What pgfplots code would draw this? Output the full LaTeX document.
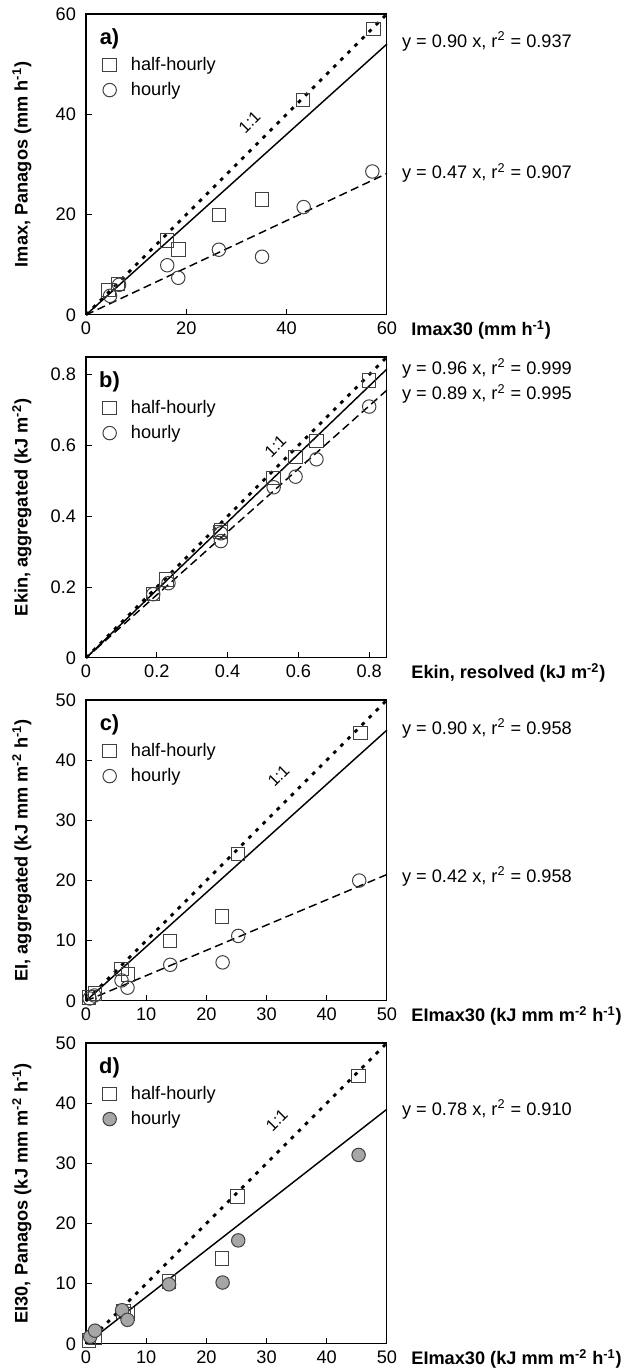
\documentclass[border=0pt]{standalone}
\usepackage{fontspec}
\setmainfont{Liberation Sans}
\usepackage{pgfplots}
\pgfplotsset{compat=1.18}

% 1 px of the reference = 0.55pt
\pgfplotsset{
  panel/.style={
    scale only axis, width=165.5pt, height=165.5pt,
    anchor=north west,
    axis line style={line width=0.6pt},
    tick style={black, line width=0.6pt},
    major tick length=3.3pt,
    tick align=inside,
    xtick pos=bottom, ytick pos=left,
    ticklabel style={font=\fontsize{10}{12}\selectfont},
    yticklabel style={xshift=-2pt},
    /pgf/number format/assume math mode=true,
    label style={font=\fontsize{10}{12}\selectfont\bfseries},
    xlabel style={at={(rel axis cs:1.06,-0.07)}, anchor=base west},
    ylabel style={at={(rel axis cs:-0.213,0.5)}, anchor=center},
    clip=false,
    legend style={draw=none, fill=none, at={(rel axis cs:0.037,0.882)},
      anchor=north west, font=\fontsize{10}{12}\selectfont, row sep=1pt},
    legend cell align=left,
  },
  sq/.style={only marks, mark=square, mark size=3.7pt,
    mark options={draw=black!75, line width=0.55pt, fill=none}},
  ci/.style={only marks, mark=o, mark size=3.7pt,
    mark options={draw=black!75, line width=0.55pt}},
  cif/.style={only marks, mark=*, mark size=3.7pt,
    mark options={draw=black!75, fill=black!35, line width=0.55pt}},
  oneone/.style={black, line width=1.6pt, dash pattern=on 2pt off 3.5pt, no marks, forget plot},
  fitA/.style={black, line width=0.8pt, no marks, forget plot},
  fitB/.style={black, line width=0.8pt, dash pattern=on 4.5pt off 2.5pt, no marks, forget plot},
}
\newcommand{\eqfont}{\fontsize{10}{12}\selectfont}
\newcommand{\tag}[1]{\node[font=\fontsize{12}{14}\selectfont\bfseries] at (rel axis cs:0.078,0.918) {#1};}
\newcommand{\one}[2]{\node[rotate=45, font=\fontsize{9}{11}\selectfont] at (axis cs:#1,#2) {1:1};}

\begin{document}
\begin{tikzpicture}
\path[use as bounding box] (-47.3pt,7.7pt) rectangle (294.8pt,-746.35pt);

% a)
\begin{axis}[panel, at={(0,0)},
  xmin=0, xmax=60, ymin=0, ymax=60,
  xtick={0,20,40,60}, ytick={0,20,40,60},
  xlabel={Imax30 (mm h\textsuperscript{-1})},
  ylabel={Imax, Panagos (mm h\textsuperscript{-1})}]
\addplot[sq] coordinates {(4.5,5.0) (6.4,6.2) (16.1,14.8) (18.4,13.0) (26.5,19.9) (35.1,23.0) (43.3,42.9) (57.3,57.0)};
\addlegendentry{\hspace{6pt}half-hourly}
\addplot[ci] coordinates {(4.8,3.8) (6.6,6.0) (16.2,9.9) (18.4,7.4) (26.5,13.0) (35.1,11.6) (43.4,21.5) (57.1,28.6)};
\addlegendentry{\hspace{6pt}hourly}
\addplot[oneone] coordinates {(0,0) (60,60)};
\addplot[fitA] coordinates {(0,0) (60,54)};
\addplot[fitB] coordinates {(0,0) (60,28.2)};
\tag{a)}
\one{32.6}{38.4}
\node[anchor=west, font=\eqfont, xshift=4.8pt] at (axis cs:60,54.5) {y = 0.90 x, r\textsuperscript{2} = 0.937};
\node[anchor=west, font=\eqfont, xshift=4.8pt] at (axis cs:60,28.3) {y = 0.47 x, r\textsuperscript{2} = 0.907};
\end{axis}

% b)
\begin{axis}[panel, at={(0,-188.65pt)},
  xmin=0, xmax=0.85, ymin=0, ymax=0.85,
  xtick={0,0.2,0.4,0.6,0.8}, ytick={0,0.2,0.4,0.6,0.8},
  xlabel={Ekin, resolved (kJ m\textsuperscript{-2})},
  ylabel={Ekin, aggregated (kJ m\textsuperscript{-2})}]
\addplot[sq] coordinates {(0.19,0.18) (0.228,0.222) (0.381,0.362) (0.38,0.355) (0.53,0.508) (0.592,0.568) (0.651,0.613) (0.80,0.783)};
\addlegendentry{\hspace{6pt}half-hourly}
\addplot[ci] coordinates {(0.19,0.18) (0.233,0.211) (0.381,0.352) (0.381,0.330) (0.53,0.482) (0.592,0.512) (0.651,0.561) (0.80,0.71)};
\addlegendentry{\hspace{6pt}hourly}
\addplot[oneone] coordinates {(0,0) (0.85,0.85)};
\addplot[fitA] coordinates {(0,0) (0.85,0.816)};
\addplot[fitB] coordinates {(0,0) (0.85,0.7565)};
\tag{b)}
\one{0.535}{0.598}
\node[anchor=west, font=\eqfont, xshift=4.8pt] at (axis cs:0.85,0.817) {y = 0.96 x, r\textsuperscript{2} = 0.999};
\node[anchor=west, font=\eqfont, xshift=4.8pt] at (axis cs:0.85,0.746) {y = 0.89 x, r\textsuperscript{2} = 0.995};
\end{axis}

% c)
\begin{axis}[panel, at={(0,-377.3pt)},
  xmin=0, xmax=50, ymin=0, ymax=50,
  xtick={0,10,20,30,40,50}, ytick={0,10,20,30,40,50},
  xlabel={EImax30 (kJ mm m\textsuperscript{-2} h\textsuperscript{-1})},
  ylabel={EI, aggregated (kJ mm m\textsuperscript{-2} h\textsuperscript{-1})}]
\addplot[sq] coordinates {(0.5,0.6) (1.5,1.2) (5.9,5.3) (7.0,4.4) (14.0,10.0) (22.6,14.0) (25.3,24.4) (45.6,44.5)};
\addlegendentry{\hspace{6pt}half-hourly}
\addplot[ci] coordinates {(0.6,0.4) (1.4,0.9) (5.9,3.4) (6.9,2.2) (14.0,6.0) (22.7,6.4) (25.3,10.8) (45.4,20.0)};
\addlegendentry{\hspace{6pt}hourly}
\addplot[oneone] coordinates {(0,0) (50,50)};
\addplot[fitA] coordinates {(0,0) (50,45)};
\addplot[fitB] coordinates {(0,0) (50,21)};
\tag{c)}
\one{32.0}{37.4}
\node[anchor=west, font=\eqfont, xshift=4.8pt] at (axis cs:50,45.3) {y = 0.90 x, r\textsuperscript{2} = 0.958};
\node[anchor=west, font=\eqfont, xshift=4.8pt] at (axis cs:50,20.7) {y = 0.42 x, r\textsuperscript{2} = 0.958};
\end{axis}

% d)
\begin{axis}[panel, at={(0,-565.95pt)},
  xmin=0, xmax=50, ymin=0, ymax=50,
  xtick={0,10,20,30,40,50}, ytick={0,10,20,30,40,50},
  xlabel={EImax30 (kJ mm m\textsuperscript{-2} h\textsuperscript{-1})},
  ylabel={EI30, Panagos (kJ mm m\textsuperscript{-2} h\textsuperscript{-1})}]
\addplot[sq] coordinates {(0.5,0.6) (1.5,1.1) (6.2,5.4) (7.0,5.0) (13.8,10.4) (22.6,14.2) (25.2,24.5) (45.3,44.5)};
\addlegendentry{\hspace{6pt}half-hourly}
\addplot[cif] coordinates {(0.7,1.2) (1.5,2.2) (6.0,5.6) (6.9,4.0) (13.8,9.9) (22.7,10.2) (25.3,17.2) (45.3,31.4)};
\addlegendentry{\hspace{6pt}hourly}
\addplot[oneone] coordinates {(0,0) (50,50)};
\addplot[fitA] coordinates {(0,0) (50,39)};
\tag{d)}
\one{31.7}{37.2}
\node[anchor=west, font=\eqfont, xshift=4.8pt] at (axis cs:50,39) {y = 0.78 x, r\textsuperscript{2} = 0.910};
\end{axis}
\end{tikzpicture}
\end{document}
